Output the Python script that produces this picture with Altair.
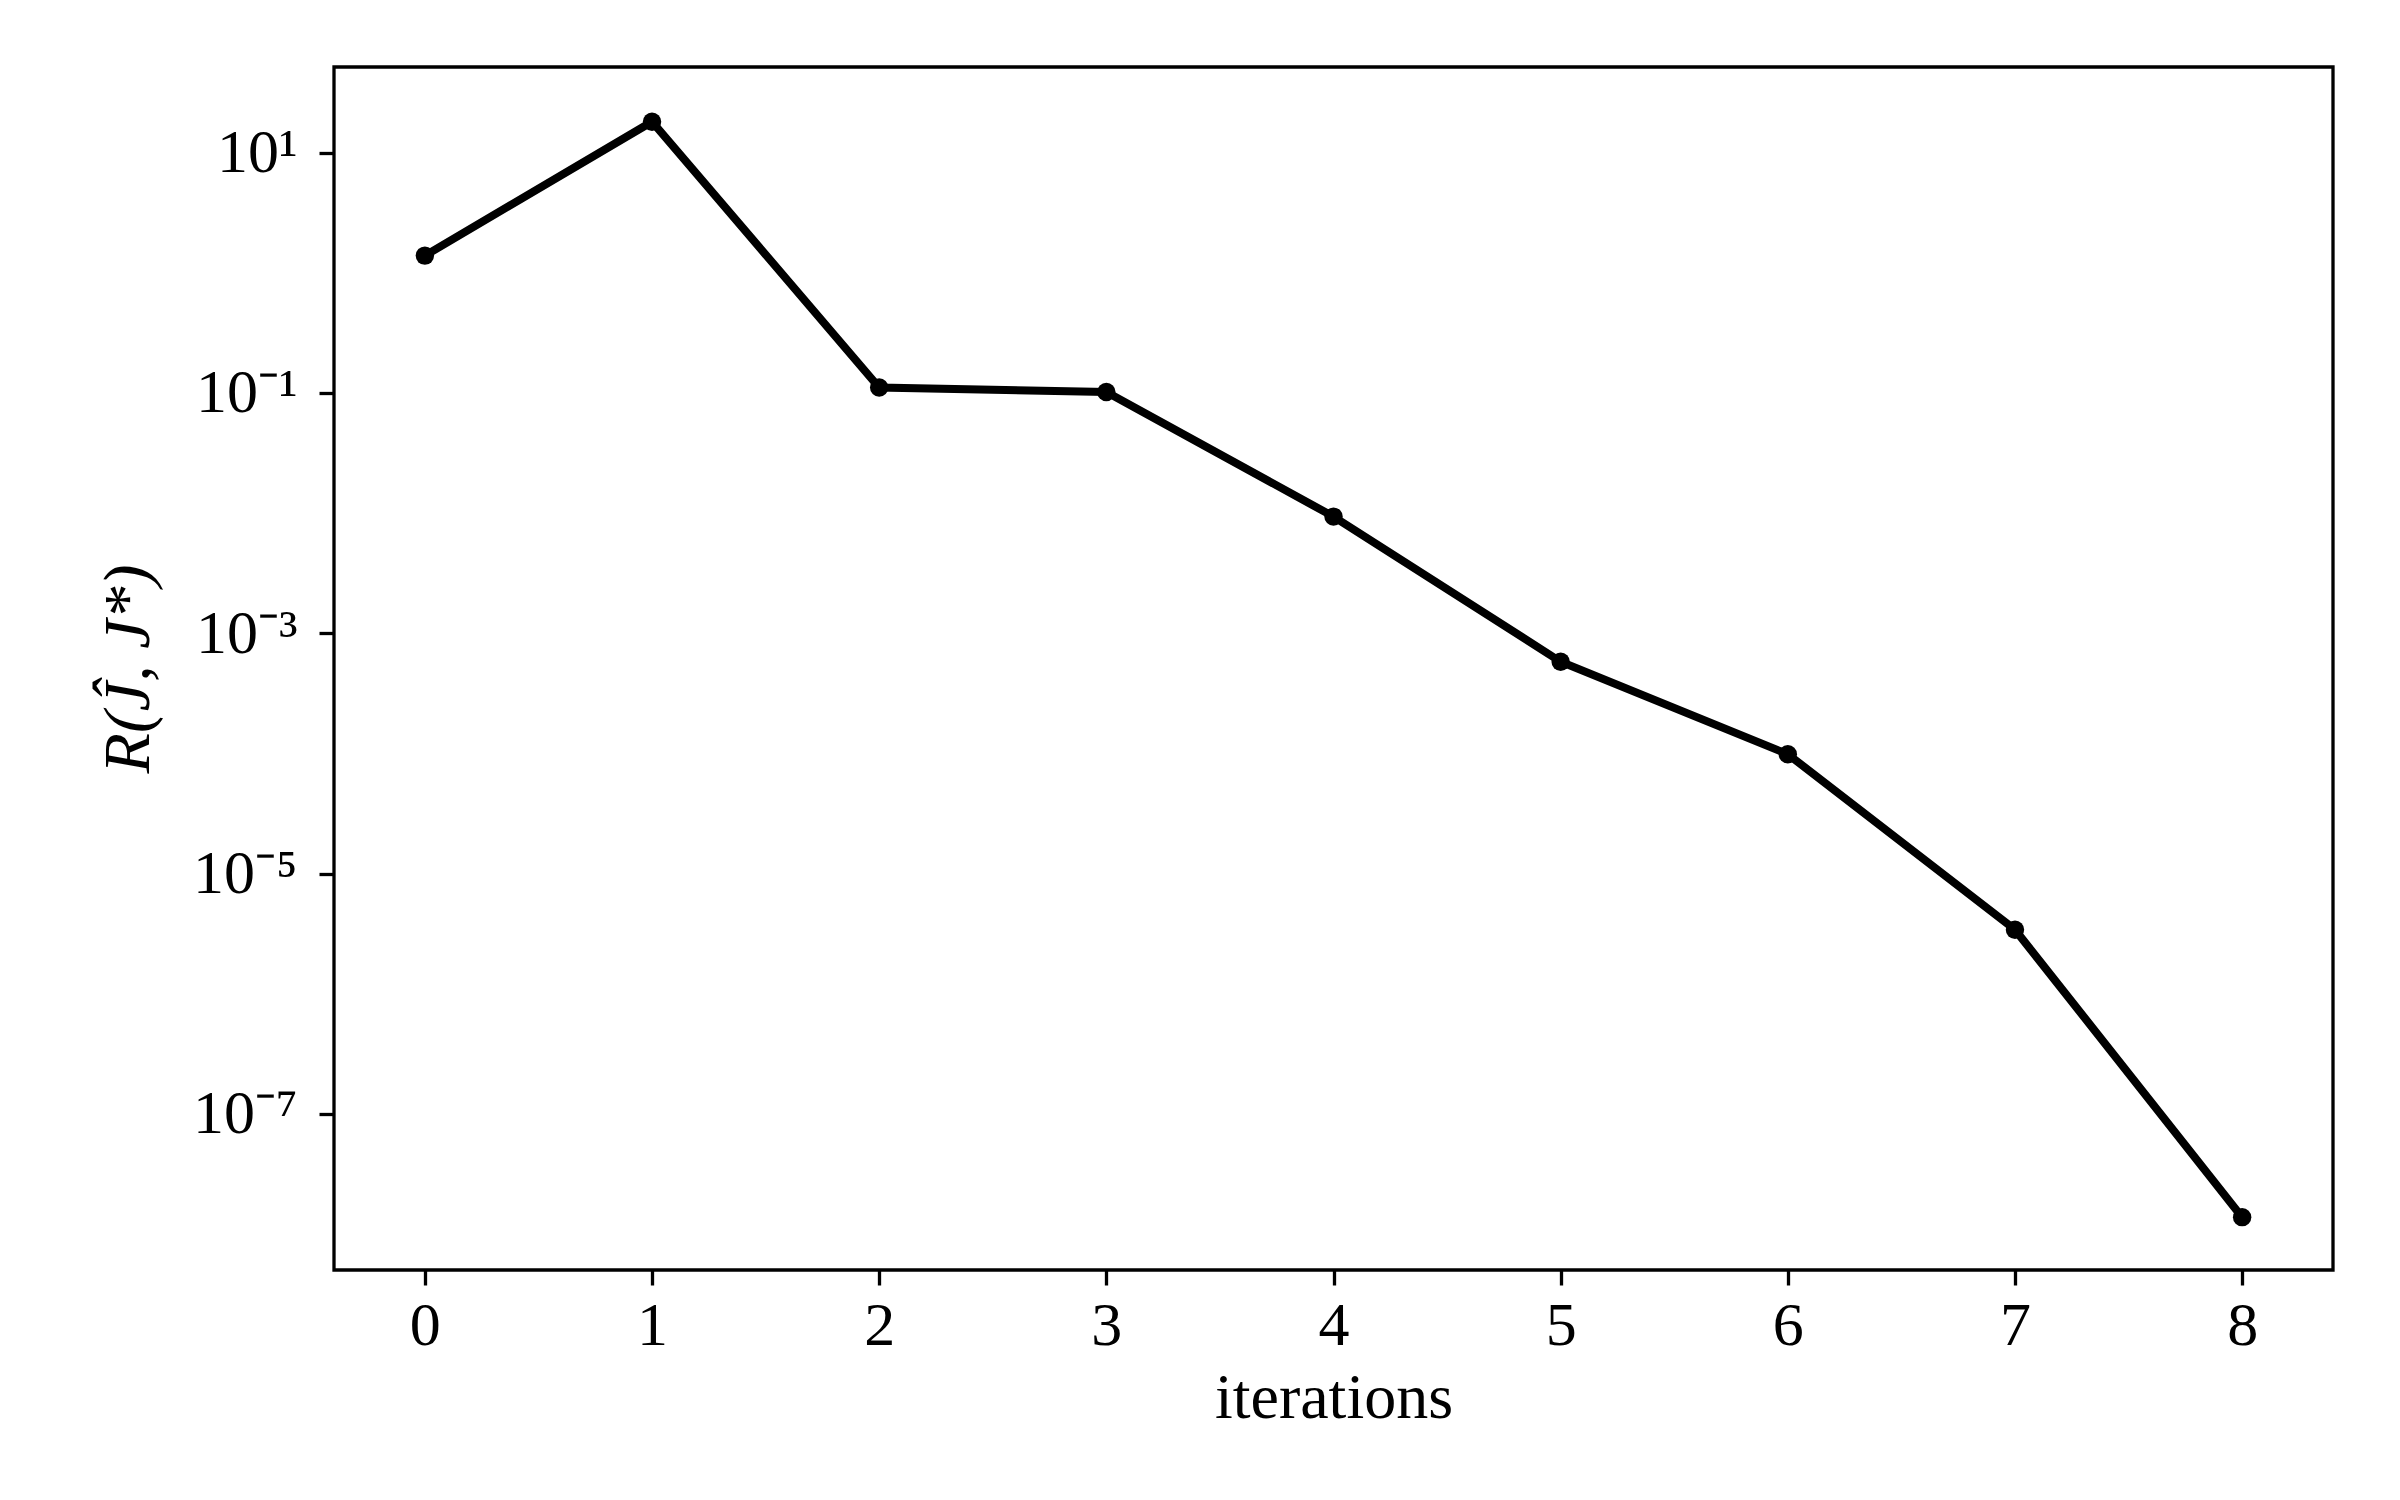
import altair as alt
import pandas as pd

iterations = [0, 1, 2, 3, 4, 5, 6, 7, 8]
residual = [1.39, 18.1, 0.111, 0.1017, 0.00935, 5.79e-4, 9.84e-5, 3.41e-6, 1.38e-8]

x_ticks = [0, 1, 2, 3, 4, 5, 6, 7, 8]
y_tick_values = [1e1, 1e-1, 1e-3, 1e-5, 1e-7]
y_tick_labels = ["10¹", "10⁻¹", "10⁻³", "10⁻⁵", "10⁻⁷"]

df = pd.DataFrame({"it": iterations, "r": residual})

label_expr = ""
for v, lab in zip(y_tick_values, y_tick_labels):
    label_expr += f"datum.value > {v / 10} ? '{lab}' : "
label_expr += "''"

FONT = "Liberation Serif"

x_enc = alt.X(
    "it:Q",
    scale=alt.Scale(domain=[-0.4, 8.4], nice=False, zero=False),
    axis=alt.Axis(
        values=x_ticks,
        title="iterations",
        grid=False,
        domain=False,
        ticks=True,
        tickSize=15,
        tickWidth=3.3,
        tickColor="black",
        labelFont=FONT,
        labelFontSize=62,
        labelColor="black",
        labelPadding=10,
        titleFont=FONT,
        titleFontSize=64,
        titleFontWeight="normal",
        titleColor="black",
        titlePadding=10,
    ),
)
y_enc = alt.Y(
    "r:Q",
    scale=alt.Scale(type="log", domain=[10 ** -8.30, 10 ** 1.713], nice=False),
    axis=alt.Axis(
        values=y_tick_values,
        labelExpr=label_expr,
        title="R(Ĵ, J*)",
        grid=False,
        domain=False,
        ticks=True,
        tickSize=15,
        tickWidth=3.3,
        tickColor="black",
        labelFont=FONT,
        labelFontSize=62,
        labelColor="black",
        labelPadding=22,
        titleFont=FONT,
        titleFontSize=66,
        titleFontStyle="italic",
        titleFontWeight="normal",
        titleColor="black",
        titlePadding=30,
    ),
)

base = alt.Chart(df).encode(x=x_enc, y=y_enc)
line = base.mark_line(color="black", strokeWidth=8)
pts = base.mark_circle(color="black", opacity=1, size=340)

chart = (
    (line + pts)
    .properties(
        width=1999,
        height=1203,
        autosize=alt.AutoSizeParams(type="none"),
        padding={"left": 326, "top": 59, "right": 59, "bottom": 200},
        background="white",
    )
    .configure_view(stroke="black", strokeWidth=3.3)
)

chart.save("out.html", embed_options={"renderer": "svg", "actions": False})
